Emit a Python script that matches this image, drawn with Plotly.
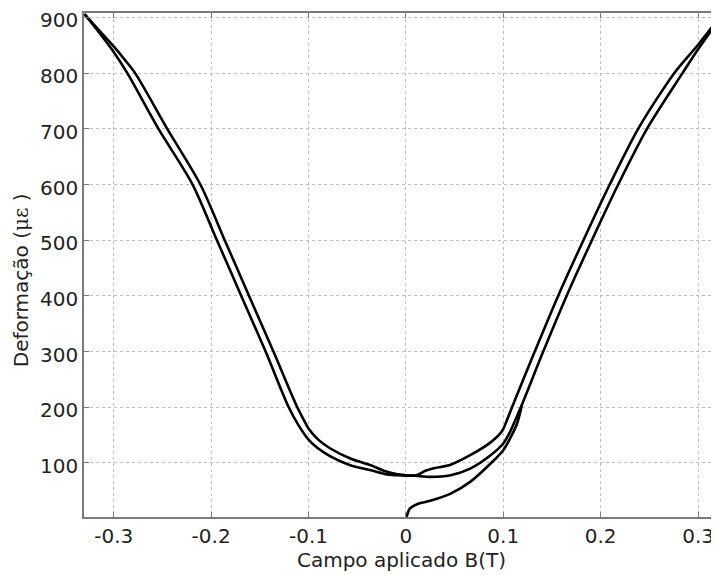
import plotly.graph_objects as go

# Initial magnetisation curve (from B=0), joins the ascending branch
init_b = [0.0, 0.004, 0.0115, 0.025, 0.046, 0.066, 0.087, 0.100, 0.107, 0.114, 0.119]
init_d = [-2, 18, 26, 32, 45, 66, 99, 123, 144, 170, 203]

# Descending branch: outer on the left arm, inner on the right arm
desc_b = [0.322, 0.300, 0.2755, 0.2385, 0.2093, 0.1823, 0.1563, 0.1323, 0.109, 0.104, 0.099,
          0.087, 0.066, 0.046, 0.030, 0.020, 0.012, 0.0, -0.010, -0.021, -0.036, -0.057,
          -0.0775, -0.090, -0.100, -0.110, -0.1203, -0.144, -0.169, -0.194, -0.219, -0.254,
          -0.286, -0.300, -0.315, -0.330]
desc_d = [900, 851, 800, 700, 600, 500, 400, 300, 200, 178, 158,
          137, 114, 97, 91, 86, 79, 77, 78, 80, 87, 96,
          112, 126, 142, 167, 200, 300, 400, 500, 600, 700,
          800, 838, 873, 906]

# Ascending branch: inner on the left arm, outer on the right arm
asc_b = [-0.330, -0.315, -0.300, -0.290, -0.278, -0.245, -0.211, -0.186, -0.161, -0.136,
         -0.1115, -0.105, -0.100, -0.090, -0.0775, -0.057, -0.036, -0.021, -0.010, 0.0,
         0.010, 0.025, 0.046, 0.066, 0.087, 0.100, 0.107, 0.118, 0.141, 0.165, 0.191,
         0.218, 0.2475, 0.284, 0.300, 0.322]
asc_d = [906, 877, 848, 827, 800, 700, 600, 500, 400, 300,
         200, 178, 162, 142, 126, 108, 96, 85, 80, 78,
         77, 75, 78, 90, 114, 135, 156, 200, 300, 400, 500,
         600, 700, 800, 843, 897]

x_ticks = [-0.3, -0.2, -0.1, 0, 0.1, 0.2, 0.3]
x_tick_labels = ["-0.3", "-0.2", "-0.1", "0", "0.1", "0.2", "0.3"]
y_ticks = [100, 200, 300, 400, 500, 600, 700, 800, 900]
y_tick_labels = [str(v) for v in y_ticks]

FONT = "DejaVu Sans, Liberation Sans, Arial, sans-serif"
TXT = "#222222"

fig = go.Figure()
line = dict(color="black", width=2.6, shape="spline", smoothing=0.8)
for xs, ys in [(init_b, init_d), (desc_b, desc_d), (asc_b, asc_d)]:
    fig.add_trace(go.Scatter(x=xs, y=ys, mode="lines", line=line,
                             showlegend=False, hoverinfo="skip"))

axis_common = dict(
    showgrid=True, gridcolor="#bdbdbd", griddash="dot", gridwidth=1,
    showline=True, linecolor="#7a7a7a", linewidth=1.5,
    ticks="inside", ticklen=5, tickcolor="#7a7a7a", tickwidth=1.2,
    tickfont=dict(family=FONT, size=20, color=TXT),
    ticklabeloverflow="allow",
    zeroline=False, automargin=False,
)

fig.update_layout(
    width=711, height=567,
    margin=dict(l=76, r=0, t=5, b=58),
    paper_bgcolor="white", plot_bgcolor="white",
    xaxis=dict(range=[-0.3305, 0.3215], tickvals=x_ticks, ticktext=x_tick_labels,
               mirror="ticks",
               title=dict(text="Campo aplicado B(T)", standoff=4,
                          font=dict(family=FONT, size=20, color=TXT)),
               **axis_common),
    yaxis=dict(range=[3, 908], tickvals=y_ticks, ticktext=y_tick_labels,
               mirror=False, ticklabelshift=3,
               **axis_common),
)

fig.add_annotation(
    text="Deformação (<span style='font-family:DejaVu Serif'>με</span> )",
    xref="paper", yref="paper", x=-0.099, y=0.47,
    xanchor="center", yanchor="middle", textangle=-90, showarrow=False,
    font=dict(family=FONT, size=20, color=TXT),
)

fig.write_html("out.html")
